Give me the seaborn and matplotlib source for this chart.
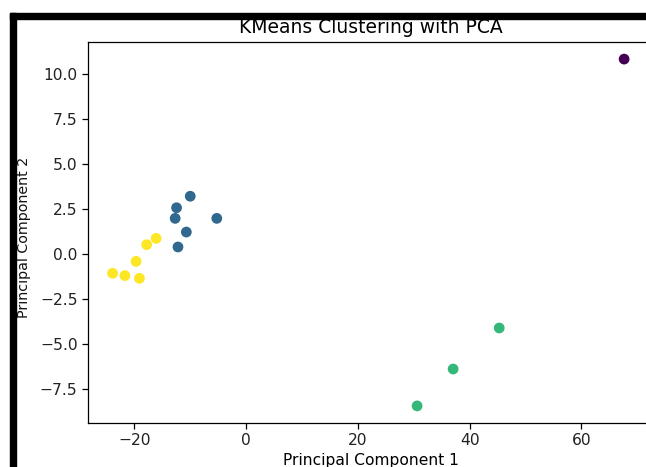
import numpy as np
import pandas as pd
import matplotlib
matplotlib.use("Agg")
import matplotlib.pyplot as plt
import seaborn as sns
from matplotlib.patches import Rectangle

# Data
pc1 = [67.65,
       45.3, 37.05, 30.6,
       -10.0, -12.45, -12.7, -5.25, -10.7, -12.2,
       -16.1, -17.8, -19.7, -23.9, -21.7, -19.1]
pc2 = [10.83,
       -4.11, -6.39, -8.44,
       3.21, 2.57, 1.98, 1.98, 1.22, 0.39,
       0.87, 0.52, -0.41, -1.07, -1.20, -1.35]
cluster = [0,
           2, 2, 2,
           1, 1, 1, 1, 1, 1,
           3, 3, 3, 3, 3, 3]

title = "KMeans Clustering with PCA"
xlabel = "Principal Component 1"
ylabel = "Principal Component 2"
xticks = [-20, 0, 20, 40, 60]
yticks = [-7.5, -5.0, -2.5, 0.0, 2.5, 5.0, 7.5, 10.0]

df = pd.DataFrame({"pc1": pc1, "pc2": pc2, "cluster": cluster})

sns.set_style("ticks")
plt.rcParams["font.family"] = ["DejaVu Sans"]
plt.rcParams["text.color"] = "black"

W, H = 646, 467
fig = plt.figure(figsize=(W / 100, H / 100), dpi=100)
ax = fig.add_axes([88 / W, (H - 423) / H, (654 - 88) / W, (423 - 42) / H])

cmap = matplotlib.colormaps["viridis"]
palette = {k: cmap(k / 3) for k in range(4)}

sns.scatterplot(data=df, x="pc1", y="pc2", hue="cluster", palette=palette,
                s=60, linewidth=0, legend=False, ax=ax)

fs = 11.2
ax.set_title(title, fontsize=13.5, pad=6.5, color="black")
ax.set_xlabel(xlabel, fontsize=fs, color="black", labelpad=3)
ax.set_ylabel(ylabel, fontsize=10.3, color="#111111", labelpad=6, y=0.487)
ax.tick_params(labelsize=fs, length=4, width=0.9, colors="black", pad=3.5)
ax.tick_params(labelcolor="#222222")
for sp in ax.spines.values():
    sp.set_visible(True)
    sp.set_linewidth(0.9)
    sp.set_color("black")
ax.set_xticks(xticks)
ax.set_yticks(yticks)
# scale matched to the reference: x=0 at 246 px, 20 units per 111.75 px
ax.set_xlim(-28.3, -28.3 + (654 - 88) / 5.5875)
ax.set_ylim(-9.39, 11.78)

# black screenshot frame (top and left)
fig.add_artist(Rectangle((10 / W, (H - 19) / H), (W - 10) / W, 6 / H,
                         transform=fig.transFigure, color="black", zorder=10))
fig.add_artist(Rectangle((10 / W, 0), 6 / W, (H - 13) / H,
                         transform=fig.transFigure, color="black", zorder=10))

fig.savefig("out.png", dpi=100)
